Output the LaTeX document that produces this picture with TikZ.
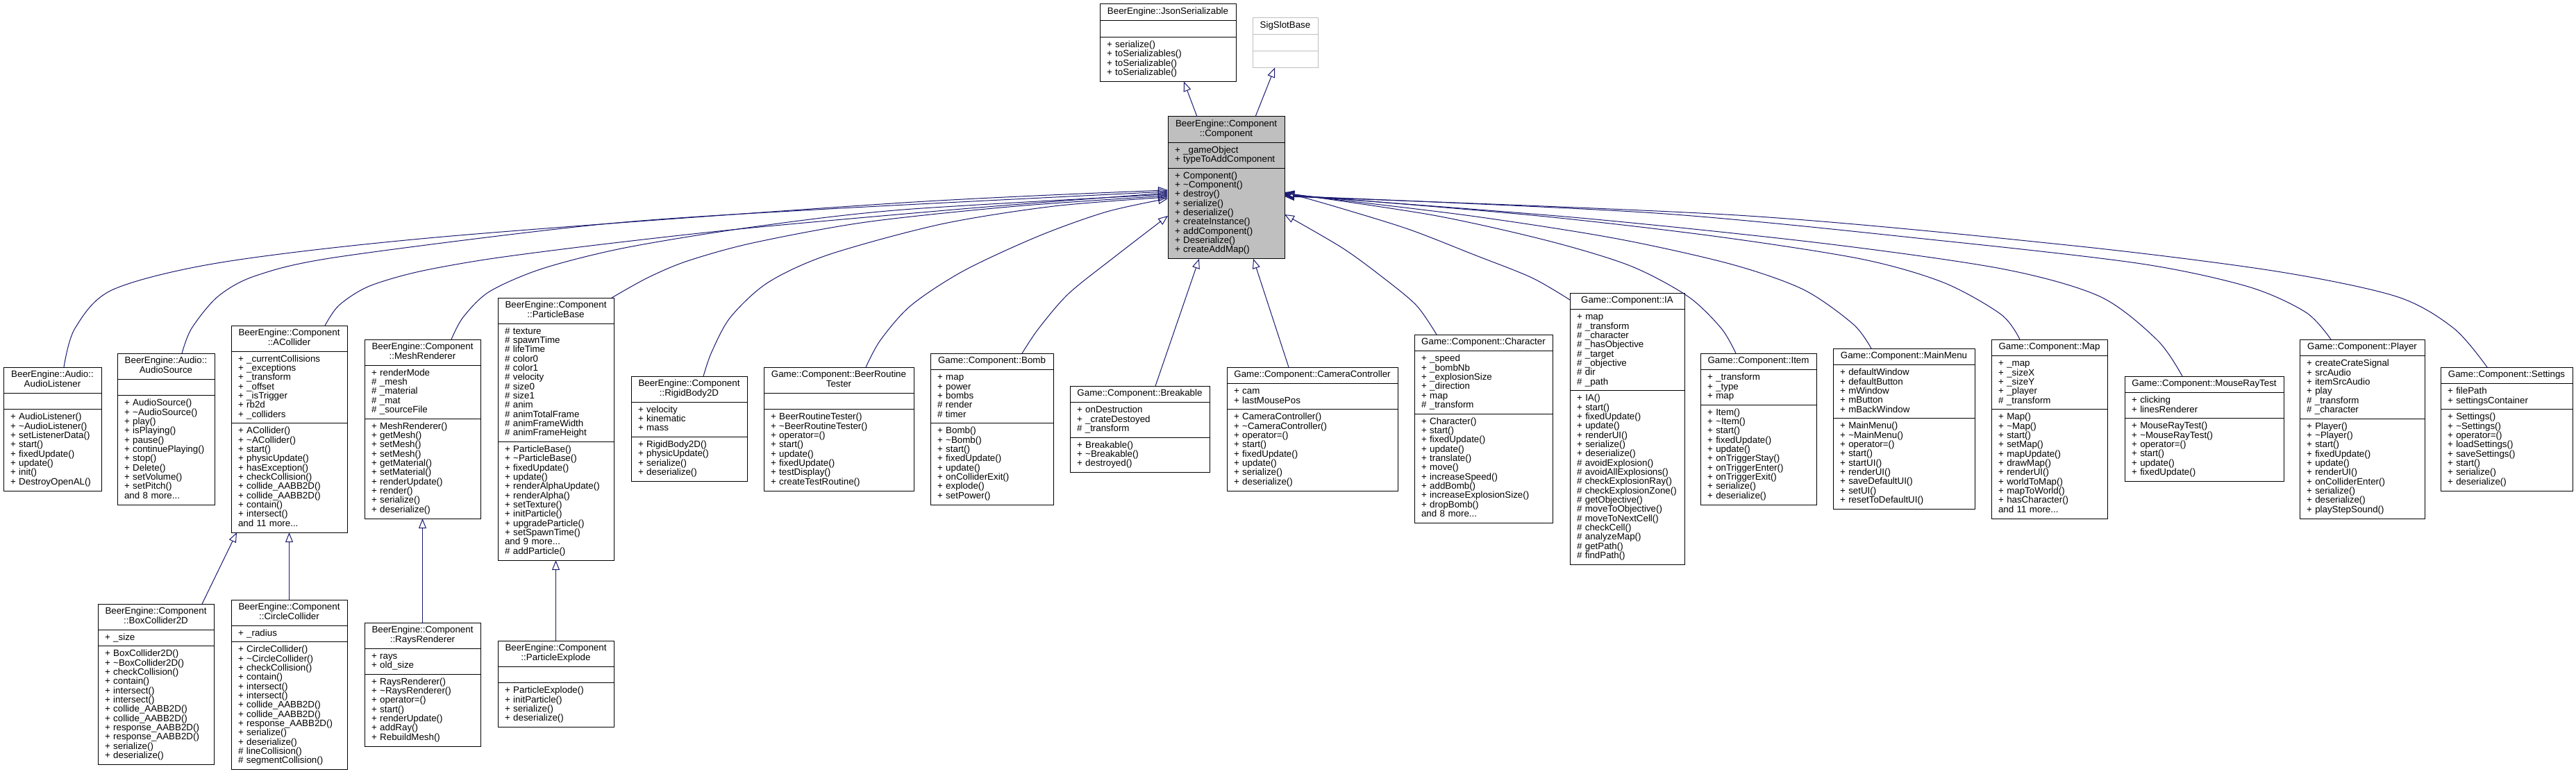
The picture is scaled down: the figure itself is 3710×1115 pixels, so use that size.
\documentclass[tikz,border=0pt]{standalone}
\usepackage{fontspec}
\setmainfont{Liberation Sans}
\usetikzlibrary{arrows.meta}
\definecolor{edgeblue}{RGB}{25,25,112}
\definecolor{compgray}{RGB}{191,191,191}
\definecolor{siggray}{RGB}{191,191,191}
\newcommand{\fs}{\fontsize{13.33pt}{13.33pt}\selectfont\lineskiplimit=-20pt\relax}
\newcommand{\st}{\rule[-3.6pt]{0pt}{13.33pt}}
\newcommand{\dtor}{\textasciitilde}
\newcommand{\mpub}[1]{\st+~#1}
\newcommand{\mpro}[1]{\st\#~#1}
\newcommand{\mmore}[1]{\st and~#1~more...}
\tikzset{
  clstitle/.style={draw=black, line width=1pt, fill=white, anchor=north west, outer sep=0pt,
    inner xsep=5pt, inner ysep=5.25pt, font=\fs, align=center},
  clsmem/.style={draw=black, line width=1pt, fill=white, anchor=north west, outer sep=0pt,
    inner xsep=10pt, inner ysep=5.25pt, font=\fs, align=left},
  inh/.style={draw=edgeblue, line width=1pt, -{Triangle[open, length=14pt, width=11pt]}},
}
\newcommand{\classbox}[8]{%
  \pgfmathsetmacro{\clsTW}{#4-10}\pgfmathsetmacro{\clsMW}{#4-20}%
  \node[clstitle, text width=\clsTW pt, #8] (#1) at (#2,#3) {#5};
  \node[clsmem, text width=\clsMW pt, #8] (#1-a) at (#1.south west) {#6};
  \node[clsmem, text width=\clsMW pt, #8] (#1-m) at (#1-a.south west) {#7};
}
\begin{document}
\begin{tikzpicture}[x=1pt, y=-1pt]
\useasboundingbox (0,0) rectangle (3710,1115);
\fill[white] (0,0) rectangle (3710,1115);

% ---- top
\classbox{json}{1584}{6}{196}{\st BeerEngine::JsonSerializable}{\st}{\mpub{serialize()}\\\mpub{toSerializables()}\\\mpub{toSerializable()}\\\mpub{toSerializable()}}{}
\classbox{sig}{1804}{26}{94}{\st SigSlotBase}{\st}{\st}{draw=siggray}
\classbox{comp}{1682}{168}{168}{\st BeerEngine::Component\\\st ::Component}{\mpub{\_gameObject}\\\mpub{typeToAddComponent}}{\mpub{Component()}\\\mpub{\dtor Component()}\\\mpub{destroy()}\\\mpub{serialize()}\\\mpub{deserialize()}\\\mpub{createInstance()}\\\mpub{addComponent()}\\\mpub{Deserialize()}\\\mpub{createAddMap()}}{fill=compgray}

% ---- children
\classbox{al}{5}{529}{141}{\st BeerEngine::Audio::\\\st AudioListener}{\st}{\mpub{AudioListener()}\\\mpub{\dtor AudioListener()}\\\mpub{setListenerData()}\\\mpub{start()}\\\mpub{fixedUpdate()}\\\mpub{update()}\\\mpub{init()}\\\mpub{DestroyOpenAL()}}{}
\classbox{as}{169}{509}{140}{\st BeerEngine::Audio::\\\st AudioSource}{\st}{\mpub{AudioSource()}\\\mpub{\dtor AudioSource()}\\\mpub{play()}\\\mpub{isPlaying()}\\\mpub{pause()}\\\mpub{continuePlaying()}\\\mpub{stop()}\\\mpub{Delete()}\\\mpub{setVolume()}\\\mpub{setPitch()}\\\mmore{8}}{}
\classbox{acol}{333}{469}{167}{\st BeerEngine::Component\\\st ::ACollider}{\mpub{\_currentCollisions}\\\mpub{\_exceptions}\\\mpub{\_transform}\\\mpub{\_offset}\\\mpub{\_isTrigger}\\\mpub{rb2d}\\\mpub{\_colliders}}{\mpub{ACollider()}\\\mpub{\dtor ACollider()}\\\mpub{start()}\\\mpub{physicUpdate()}\\\mpub{hasException()}\\\mpub{checkCollision()}\\\mpub{collide\_AABB2D()}\\\mpub{collide\_AABB2D()}\\\mpub{contain()}\\\mpub{intersect()}\\\mmore{11}}{}
\classbox{box}{141}{870}{167}{\st BeerEngine::Component\\\st ::BoxCollider2D}{\mpub{\_size}}{\mpub{BoxCollider2D()}\\\mpub{\dtor BoxCollider2D()}\\\mpub{checkCollision()}\\\mpub{contain()}\\\mpub{intersect()}\\\mpub{intersect()}\\\mpub{collide\_AABB2D()}\\\mpub{collide\_AABB2D()}\\\mpub{response\_AABB2D()}\\\mpub{response\_AABB2D()}\\\mpub{serialize()}\\\mpub{deserialize()}}{}
\classbox{ccol}{333}{864}{167}{\st BeerEngine::Component\\\st ::CircleCollider}{\mpub{\_radius}}{\mpub{CircleCollider()}\\\mpub{\dtor CircleCollider()}\\\mpub{checkCollision()}\\\mpub{contain()}\\\mpub{intersect()}\\\mpub{intersect()}\\\mpub{collide\_AABB2D()}\\\mpub{collide\_AABB2D()}\\\mpub{response\_AABB2D()}\\\mpub{serialize()}\\\mpub{deserialize()}\\\mpro{lineCollision()}\\\mpro{segmentCollision()}}{}
\classbox{mesh}{525}{489}{167}{\st BeerEngine::Component\\\st ::MeshRenderer}{\mpub{renderMode}\\\mpro{\_mesh}\\\mpro{\_material}\\\mpro{\_mat}\\\mpro{\_sourceFile}}{\mpub{MeshRenderer()}\\\mpub{getMesh()}\\\mpub{setMesh()}\\\mpub{setMesh()}\\\mpub{getMaterial()}\\\mpub{setMaterial()}\\\mpub{renderUpdate()}\\\mpub{render()}\\\mpub{serialize()}\\\mpub{deserialize()}}{}
\classbox{rays}{525}{897}{167}{\st BeerEngine::Component\\\st ::RaysRenderer}{\mpub{rays}\\\mpub{old\_size}}{\mpub{RaysRenderer()}\\\mpub{\dtor RaysRenderer()}\\\mpub{operator=()}\\\mpub{start()}\\\mpub{renderUpdate()}\\\mpub{addRay()}\\\mpub{RebuildMesh()}}{}
\classbox{pbase}{717}{429}{167}{\st BeerEngine::Component\\\st ::ParticleBase}{\mpro{texture}\\\mpro{spawnTime}\\\mpro{lifeTime}\\\mpro{color0}\\\mpro{color1}\\\mpro{velocity}\\\mpro{size0}\\\mpro{size1}\\\mpro{anim}\\\mpro{animTotalFrame}\\\mpro{animFrameWidth}\\\mpro{animFrameHeight}}{\mpub{ParticleBase()}\\\mpub{\dtor ParticleBase()}\\\mpub{fixedUpdate()}\\\mpub{update()}\\\mpub{renderAlphaUpdate()}\\\mpub{renderAlpha()}\\\mpub{setTexture()}\\\mpub{initParticle()}\\\mpub{upgradeParticle()}\\\mpub{setSpawnTime()}\\\mmore{9}\\\mpro{addParticle()}}{}
\classbox{pexp}{717}{923}{167}{\st BeerEngine::Component\\\st ::ParticleExplode}{\st}{\mpub{ParticleExplode()}\\\mpub{initParticle()}\\\mpub{serialize()}\\\mpub{deserialize()}}{}
\classbox{rb}{909}{542}{167}{\st BeerEngine::Component\\\st ::RigidBody2D}{\mpub{velocity}\\\mpub{kinematic}\\\mpub{mass}}{\mpub{RigidBody2D()}\\\mpub{physicUpdate()}\\\mpub{serialize()}\\\mpub{deserialize()}}{}
\classbox{brt}{1100}{529}{216}{\st Game::Component::BeerRoutine\\\st Tester}{\st}{\mpub{BeerRoutineTester()}\\\mpub{\dtor BeerRoutineTester()}\\\mpub{operator=()}\\\mpub{start()}\\\mpub{update()}\\\mpub{fixedUpdate()}\\\mpub{testDisplay()}\\\mpub{createTestRoutine()}}{}
\classbox{bomb}{1340}{509}{177}{\st Game::Component::Bomb}{\mpub{map}\\\mpub{power}\\\mpub{bombs}\\\mpro{render}\\\mpro{timer}}{\mpub{Bomb()}\\\mpub{\dtor Bomb()}\\\mpub{start()}\\\mpub{fixedUpdate()}\\\mpub{update()}\\\mpub{onColliderExit()}\\\mpub{explode()}\\\mpub{setPower()}}{}
\classbox{brk}{1541}{556}{201}{\st Game::Component::Breakable}{\mpub{onDestruction}\\\mpub{\_crateDestoyed}\\\mpro{\_transform}}{\mpub{Breakable()}\\\mpub{\dtor Breakable()}\\\mpub{destroyed()}}{}
\classbox{cam}{1767}{529}{246}{\st Game::Component::CameraController}{\mpub{cam}\\\mpub{lastMousePos}}{\mpub{CameraController()}\\\mpub{\dtor CameraController()}\\\mpub{operator=()}\\\mpub{start()}\\\mpub{fixedUpdate()}\\\mpub{update()}\\\mpub{serialize()}\\\mpub{deserialize()}}{}
\classbox{chr}{2037}{482}{199}{\st Game::Component::Character}{\mpub{\_speed}\\\mpub{\_bombNb}\\\mpub{\_explosionSize}\\\mpub{\_direction}\\\mpub{map}\\\mpro{\_transform}}{\mpub{Character()}\\\mpub{start()}\\\mpub{fixedUpdate()}\\\mpub{update()}\\\mpub{translate()}\\\mpub{move()}\\\mpub{increaseSpeed()}\\\mpub{addBomb()}\\\mpub{increaseExplosionSize()}\\\mpub{dropBomb()}\\\mmore{8}}{}
\classbox{ia}{2261}{422}{165}{\st Game::Component::IA}{\mpub{map}\\\mpro{\_transform}\\\mpro{\_character}\\\mpro{\_hasObjective}\\\mpro{\_target}\\\mpro{\_objective}\\\mpro{dir}\\\mpro{\_path}}{\mpub{IA()}\\\mpub{start()}\\\mpub{fixedUpdate()}\\\mpub{update()}\\\mpub{renderUI()}\\\mpub{serialize()}\\\mpub{deserialize()}\\\mpro{avoidExplosion()}\\\mpro{avoidAllExplosions()}\\\mpro{checkExplosionRay()}\\\mpro{checkExplosionZone()}\\\mpro{getObjective()}\\\mpro{moveToObjective()}\\\mpro{moveToNextCell()}\\\mpro{checkCell()}\\\mpro{analyzeMap()}\\\mpro{getPath()}\\\mpro{findPath()}}{}
\classbox{item}{2449}{509}{167}{\st Game::Component::Item}{\mpub{\_transform}\\\mpub{\_type}\\\mpub{map}}{\mpub{Item()}\\\mpub{\dtor Item()}\\\mpub{start()}\\\mpub{fixedUpdate()}\\\mpub{update()}\\\mpub{onTriggerStay()}\\\mpub{onTriggerEnter()}\\\mpub{onTriggerExit()}\\\mpub{serialize()}\\\mpub{deserialize()}}{}
\classbox{menu}{2640}{502}{204}{\st Game::Component::MainMenu}{\mpub{defaultWindow}\\\mpub{defaultButton}\\\mpub{mWindow}\\\mpub{mButton}\\\mpub{mBackWindow}}{\mpub{MainMenu()}\\\mpub{\dtor MainMenu()}\\\mpub{operator=()}\\\mpub{start()}\\\mpub{startUI()}\\\mpub{renderUI()}\\\mpub{saveDefaultUI()}\\\mpub{setUI()}\\\mpub{resetToDefaultUI()}}{}
\classbox{map}{2868}{489}{167}{\st Game::Component::Map}{\mpub{\_map}\\\mpub{\_sizeX}\\\mpub{\_sizeY}\\\mpub{\_player}\\\mpro{\_transform}}{\mpub{Map()}\\\mpub{\dtor Map()}\\\mpub{start()}\\\mpub{setMap()}\\\mpub{mapUpdate()}\\\mpub{drawMap()}\\\mpub{renderUI()}\\\mpub{worldToMap()}\\\mpub{mapToWorld()}\\\mpub{hasCharacter()}\\\mmore{11}}{}
\classbox{mrt}{3060}{542}{229}{\st Game::Component::MouseRayTest}{\mpub{clicking}\\\mpub{linesRenderer}}{\mpub{MouseRayTest()}\\\mpub{\dtor MouseRayTest()}\\\mpub{operator=()}\\\mpub{start()}\\\mpub{update()}\\\mpub{fixedUpdate()}}{}
\classbox{plr}{3312}{489}{180}{\st Game::Component::Player}{\mpub{createCrateSignal}\\\mpub{srcAudio}\\\mpub{itemSrcAudio}\\\mpub{play}\\\mpro{\_transform}\\\mpro{\_character}}{\mpub{Player()}\\\mpub{\dtor Player()}\\\mpub{start()}\\\mpub{fixedUpdate()}\\\mpub{update()}\\\mpub{renderUI()}\\\mpub{onColliderEnter()}\\\mpub{serialize()}\\\mpub{deserialize()}\\\mpub{playStepSound()}}{}
\classbox{set}{3515}{529}{190}{\st Game::Component::Settings}{\mpub{filePath}\\\mpub{settingsContainer}}{\mpub{Settings()}\\\mpub{\dtor Settings()}\\\mpub{operator=()}\\\mpub{loadSettings()}\\\mpub{saveSettings()}\\\mpub{start()}\\\mpub{serialize()}\\\mpub{deserialize()}}{}

% ---- inheritance edges: top
\draw[inh] ([xshift=-42pt]comp.north) -- ([xshift=23pt]json-m.south);
\draw[inh] ([xshift=42pt]comp.north) -- ([xshift=-15pt]sig-m.south);

% ---- left side curves
\draw[inh] plot[smooth] coordinates {([xshift=16.5pt]al.north) (108,473) (163,417) (325,377) (650,340) (1301,292) ([yshift=33.6pt]comp-m.west)};
\draw[inh] plot[smooth] coordinates {([xshift=23pt]as.north) (276,473) (314,427) (369,397) (488,370) (867,323) (1193,301) ([yshift=31.6pt]comp-m.west)};
\draw[inh] plot[smooth] coordinates {([xshift=51.5pt]acol.north) (488,440) (530,413) (600,392) (705,373) (867,352) (1084,328) (1409,299) ([yshift=29.6pt]comp-m.west)};
\draw[inh] plot[smooth] coordinates {([xshift=41.5pt]mesh.north) (667,457) (705,420) (781,387) (900,357) (1084,327) (1301,302) ([yshift=27.6pt]comp-m.west)};
\draw[inh] plot[smooth] coordinates {([xshift=-3pt]pbase.north east) (933,400) (990,376) (1084,350) (1247,320) (1464,297) ([yshift=25.6pt]comp-m.west)};
\draw[inh] plot[smooth] coordinates {([xshift=20.5pt]rb.north) (1025,507) (1052,457) (1106,407) (1193,367) (1355,323) (1518,297) ([yshift=23.6pt]comp-m.west)};
\draw[inh] plot[smooth] coordinates {([xshift=39pt]brt.north) (1268,490) (1312,440) (1388,390) (1496,340) (1594,305) ([yshift=21.6pt]comp-m.west)};
\draw[inh] plot[smooth] coordinates {([xshift=43.5pt]bomb.north) (1496,473) (1539,423) (1604,371) ([yshift=-3.4pt]comp-m.west)};

% ---- straight ones below
\draw[inh] ([xshift=22.5pt]brk.north) -- ([xshift=-39pt]comp-m.south);
\draw[inh] ([xshift=-34pt]cam.north) -- ([xshift=39pt]comp-m.south);

% ---- right side curves
\draw[inh] plot[smooth] coordinates {([xshift=-67.5pt]chr.north) (2040,440) (1992,400) (1933,357) ([yshift=-1.4pt]comp-m.east)};
\draw[inh] plot[smooth] coordinates {([yshift=-10pt]ia.north west) (2206,400) (2123,367) (2028,330) (1921,297) ([yshift=30.6pt]comp-m.east)};
\draw[inh] plot[smooth] coordinates {([xshift=-32.5pt]item.north) (2479,473) (2431,427) (2348,383) (2230,347) (2064,310) ([yshift=29.6pt]comp-m.east)};
\draw[inh] plot[smooth] coordinates {([xshift=-47pt]menu.north) (2669,467) (2597,417) (2491,380) (2324,343) (2111,310) ([yshift=28.6pt]comp-m.east)};
\draw[inh] plot[smooth] coordinates {([xshift=-42.5pt]map.north) (2882,453) (2799,407) (2680,373) (2467,340) (2206,310) ([yshift=27.6pt]comp-m.east)};
\draw[inh] plot[smooth] coordinates {([xshift=-31.5pt]mrt.north) (3107,490) (3024,427) (2882,387) (2621,350) (2265,313) ([yshift=26.6pt]comp-m.east)};
\draw[inh] plot[smooth] coordinates {([xshift=-45pt]plr.north) (3321,450) (3238,413) (3084,380) (2799,347) (2384,307) ([yshift=25.6pt]comp-m.east)};
\draw[inh] plot[smooth] coordinates {([xshift=-28pt]set.north) (3534,473) (3451,427) (3273,390) (2977,353) (2502,310) ([yshift=24.6pt]comp-m.east)};

% ---- second level
\draw[inh] ([xshift=66.5pt]box.north) -- ([xshift=8pt]acol-m.south west);
\draw[inh] (ccol.north) -- (acol-m.south);
\draw[inh] (rays.north) -- (mesh-m.south);
\draw[inh] (pexp.north) -- (pbase-m.south);
\end{tikzpicture}
\end{document}
